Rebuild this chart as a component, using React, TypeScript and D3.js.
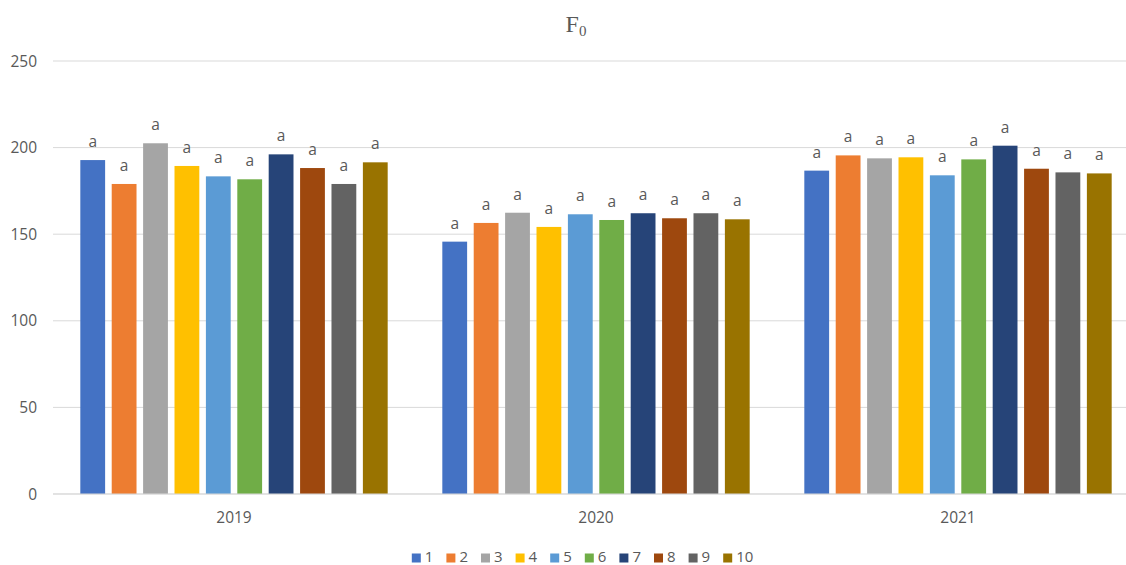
import React from "react";
import * as d3 from "d3";

const years = ["2019", "2020", "2021"];
const seriesNames = ["1", "2", "3", "4", "5", "6", "7", "8", "9", "10"];
const seriesColors = ["#4472C4", "#ED7D31", "#A5A5A5", "#FFC000", "#5B9BD5", "#70AD47", "#264478", "#9E480E", "#636363", "#997300"];
const values2019 = [192.8, 179, 202.5, 189.4, 183.4, 181.7, 196.1, 188.2, 179, 191.5];
const values2020 = [145.7, 156.5, 162.4, 154.2, 161.5, 158.2, 162.1, 159.2, 162.1, 158.6];
const values2021 = [186.7, 195.5, 193.8, 194.4, 184, 193.2, 201.1, 187.8, 185.7, 185.1];
const letters = ["a", "a", "a", "a", "a", "a", "a", "a", "a", "a"];
const yTicks = [0, 50, 100, 150, 200, 250];

const W = 1126;
const H = 565;
const FONT = "'Open Sans', 'Liberation Sans', sans-serif";
const TEXT = "#595959";

export default function App() {
  const allValues = [values2019, values2020, values2021];
  const x0 = d3.scaleBand().domain(years).range([53, 1139]).paddingInner(0).paddingOuter(0);
  const x1 = d3
    .scaleBand()
    .domain(seriesNames)
    .range([0, x0.bandwidth()])
    .paddingInner(0.21)
    .paddingOuter(0.87);
  const y = d3.scaleLinear().domain([0, 250]).range([494, 61]);

  const legendItemW = (s: string) => 9 + 4 + s.length * 9 + 12.6;
  const totalLegend = seriesNames.reduce((a, s) => a + legendItemW(s), 0) - 12.6;
  let lx = 583 - totalLegend / 2;
  const legendPos = seriesNames.map((s) => {
    const p = lx;
    lx += legendItemW(s);
    return p;
  });

  return (
    <svg
      width={W}
      height={H}
      style={{ position: "absolute", left: 0, top: 0, background: "#fff" }}
      fontFamily={FONT}
    >
      <rect x={0} y={0} width={W} height={H} fill="#fff" />
      <text x={576} y={32} textAnchor="middle" fontFamily="'Liberation Serif', 'DejaVu Serif', serif" fontSize={24} fill={TEXT}>
        F
        <tspan fontSize={15} dy={4}>0</tspan>
      </text>
      {yTicks.map((t) => (
        <g key={t}>
          <line x1={53} x2={1139} y1={y(t)} y2={y(t)} stroke="#d9d9d9" strokeWidth={1} />
          <text x={37} y={y(t) + 5.5} textAnchor="end" fontSize={15.5} fill={TEXT}>
            {t}
          </text>
        </g>
      ))}
      {years.map((yr, gi) => (
        <g key={yr} transform={`translate(${x0(yr)},0)`}>
          {seriesNames.map((s, si) => {
            const v = allValues[gi][si];
            const bx = x1(s)!;
            return (
              <g key={s}>
                <rect x={bx} y={y(v)} width={x1.bandwidth()} height={y(0) - y(v)} fill={seriesColors[si]} />
                <text x={bx + x1.bandwidth() / 2} y={y(v) - 13} textAnchor="middle" fontSize={15.5} fill={TEXT}>
                  {letters[si]}
                </text>
              </g>
            );
          })}
          <text x={x0.bandwidth() / 2} y={523} textAnchor="middle" fontSize={15.5} fill={TEXT}>
            {yr}
          </text>
        </g>
      ))}
      <line x1={53} x2={1139} y1={y(0)} y2={y(0)} stroke="#d9d9d9" strokeWidth={1} />
      {seriesNames.map((s, si) => (
        <g key={s} transform={`translate(${legendPos[si]},0)`}>
          <rect x={0} y={553.5} width={9} height={9} fill={seriesColors[si]} />
          <text x={13} y={562} fontSize={15} fill={TEXT}>
            {s}
          </text>
        </g>
      ))}
    </svg>
  );
}
